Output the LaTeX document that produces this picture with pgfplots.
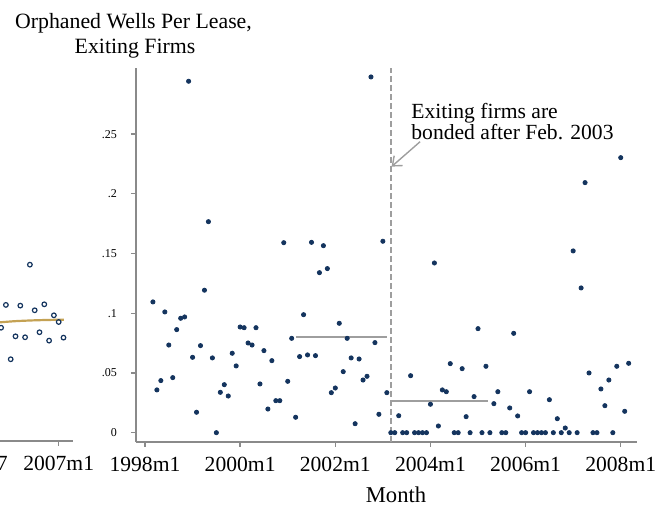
\documentclass[border=0pt]{standalone}
\usepackage{fontspec}
\setmainfont{Liberation Serif}
\usepackage{pgfplots}
\pgfplotsset{compat=1.18}
\usetikzlibrary{arrows.meta}
\definecolor{navy}{RGB}{20,52,94}
\definecolor{gold}{RGB}{196,162,84}
\definecolor{axgray}{RGB}{138,138,138}
\definecolor{refgray}{RGB}{158,158,158}

\pgfplotstableread{
m v
2 0.1095
3 0.0358
4 0.0436
5 0.1011
6 0.0734
7 0.0461
8 0.0863
9 0.0958
10 0.0969
11 0.2943
12 0.0631
13 0.0171
14 0.0729
15 0.1193
16 0.1767
17 0.0626
18 0.0000
19 0.0338
20 0.0402
21 0.0307
22 0.0665
23 0.0559
24 0.0885
25 0.0879
26 0.0751
27 0.0734
28 0.0879
29 0.0408
30 0.0687
31 0.0198
32 0.0603
33 0.0268
34 0.0268
35 0.1591
36 0.0430
37 0.0790
38 0.0129
39 0.0637
40 0.0988
41 0.0651
42 0.1594
43 0.0645
44 0.1340
45 0.1566
46 0.1374
47 0.0335
48 0.0374
49 0.0916
50 0.0511
51 0.0790
52 0.0626
53 0.0075
54 0.0617
55 0.0441
56 0.0472
57 0.2979
58 0.0754
59 0.0154
60 0.1603
61 0.0335
62 0
63 0
64 0.0142
65 0
66 0
67 0.0477
68 0
69 0
70 0
71 0
72 0.0238
73 0.1421
74 0.0056
75 0.0358
76 0.0343
77 0.0578
78 0
79 0
80 0.0536
81 0.0134
82 0
83 0.0302
84 0.0871
85 0
86 0.0556
87 0
88 0.0243
89 0.0343
90 0
91 0
92 0.0207
93 0.0832
94 0.0140
95 0
96 0
97 0.0343
98 0
99 0
100 0
101 0
102 0.0276
103 0
104 0.0117
105 0
106 0.0039
107 0
108 0.1522
109 0
110 0.1212
111 0.2094
112 0.0500
113 0
114 0
115 0.0366
116 0.0226
117 0.0441
118 0
119 0.0556
120 0.2303
121 0.0179
122 0.0581
}\maindata

\pgfplotstableread{
k v
-12 0.0879
-11 0.1070
-10 0.0615
-9 0.0807
-8 0.1064
-7 0.0799
-6 0.1407
-5 0.1025
-4 0.0841
-3 0.1075
-2 0.0771
-1 0.0983
0 0.0927
1 0.0796
}\leftdata

\pgfplotsset{
  stata/.style={
    scale only axis,
    axis x line*=bottom, axis y line*=left,
    axis line style={axgray, line width=0.65pt, -},
    tick style={axgray, line width=0.65pt},
    tick align=outside, major tick length=2.5pt,
    xticklabel style={font=\fontsize{10.8}{12}\selectfont, anchor=base, yshift=-12.3pt},
    yticklabel style={font=\fontsize{6}{7}\selectfont, anchor=east, xshift=-3.5pt},
    clip=false,
  }
}

\begin{document}
\begin{tikzpicture}
\useasboundingbox (0pt,0pt) rectangle (332.5pt,253pt);
\clip (0pt,0pt) rectangle (332.5pt,253pt);
% partial left panel
\begin{axis}[stata, at={(-100pt,32.5pt)}, anchor=south west,
  width=136.5pt, height=186.5pt,
  xmin=-53.9, xmax=2.98, ymin=-0.00695, ymax=0.3054,
  xtick={-36,-18,0}, xticklabels={2004m1,2005m7,2007m1}, ytick=\empty]
\addplot[gold, line width=1.1pt, smooth] coordinates {(-12.3,0.0924) (-9,0.0934) (-5,0.0941) (-1,0.0945) (1.1,0.0946)};
\addplot[only marks, mark=o, mark size=1.15pt, navy, line width=0.6pt, mark options={fill=white}] table[x=k, y=v] {\leftdata};
\end{axis}
% main panel
\begin{axis}[stata, at={(68pt,32pt)}, anchor=south west,
  width=250.5pt, height=187pt,
  xmin=-2.27, xmax=124.1, ymin=-0.0078, ymax=0.3054,
  xtick={0,24,48,72,96,120},
  xticklabels={1998m1,2000m1,2002m1,2004m1,2006m1,2008m1},
  ytick={0,0.05,0.1,0.15,0.2,0.25},
  yticklabels={0,.05,.1,.15,.2,.25}]
\addplot[refgray, line width=0.7pt, dash pattern=on 3pt off 1.5pt] coordinates {(62,-0.0078) (62,0.3054)};
\addplot[refgray, line width=1.1pt] coordinates {(38,0.0804) (61,0.0804)};
\addplot[refgray, line width=1.1pt] coordinates {(62,0.0268) (86.5,0.0268)};
\addplot[only marks, mark=*, mark size=1.05pt, navy] table[x=m, y=v] {\maindata};
\draw[refgray, line width=0.7pt, -{Straight Barb[length=4pt,width=6.5pt]}] (axis cs:69.4,0.2437) -- (axis cs:62.2,0.2228);
\node[anchor=base west, inner sep=0pt, font=\fontsize{10.8}{12}\selectfont] at (axis cs:67.1,0.2633) {Exiting firms are};
\node[anchor=base west, inner sep=0pt, font=\fontsize{10.8}{12}\selectfont] at (axis cs:67.1,0.2452) {bonded after Feb. 2003};
\end{axis}
\node[anchor=base, inner sep=0pt, font=\fontsize{10.9}{12.5}\selectfont] at (66.75pt,238.5pt) {Orphaned Wells Per Lease,};
\node[anchor=base, inner sep=0pt, font=\fontsize{10.9}{12.5}\selectfont] at (67.5pt,226pt) {Exiting Firms};
\node[anchor=base, inner sep=0pt, font=\fontsize{11.3}{13}\selectfont] at (198pt,1.8pt) {Month};
\end{tikzpicture}
\end{document}
